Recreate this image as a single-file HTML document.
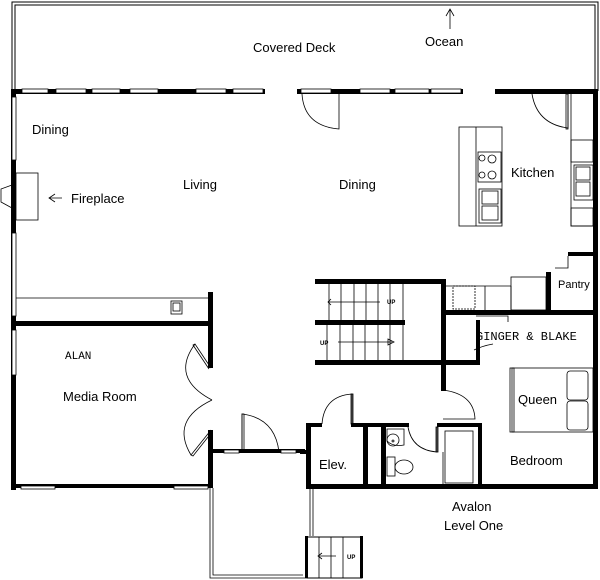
<!DOCTYPE html>
<html><head><meta charset="utf-8"><style>
html,body{margin:0;padding:0;background:#fff;}
svg{display:block;}
text{font-family:"Liberation Sans",sans-serif;font-size:13px;fill:#000;}
.m{font-family:"Liberation Mono",monospace;font-size:12px;}
.s{font-size:6px;font-weight:bold;}
</style></head><body>
<svg width="600" height="580" viewBox="0 0 600 580" xmlns="http://www.w3.org/2000/svg">
<g fill="none" stroke="#000" stroke-width="1">
<path d="M12 91 V2 H598 V91 M15 91 V5 H595 V91"/>
</g>
<g fill="#000">
<rect x="12" y="89" width="253" height="5"/>
<rect x="297" y="89" width="166" height="5"/>
<rect x="495" y="89" width="103" height="5"/>
<rect x="11" y="89" width="5" height="401"/>
<rect x="593" y="89" width="5" height="400"/>
<rect x="11" y="321" width="202" height="5"/>
<rect x="208" y="292" width="5" height="34"/>
<rect x="208" y="321" width="5" height="47"/>
<rect x="208" y="430" width="5" height="58"/>
<rect x="11" y="484" width="202" height="4"/>
<rect x="213" y="449" width="92" height="4"/>
<rect x="315" y="279" width="130" height="5"/>
<rect x="315" y="320" width="90" height="5"/>
<rect x="315" y="360" width="165" height="5"/>
<rect x="441" y="279" width="5" height="112"/>
<rect x="476" y="320" width="4" height="45"/>
<rect x="441" y="310" width="157" height="5"/>
<rect x="546" y="272" width="5" height="40"/>
<rect x="568" y="252" width="28" height="4"/>
<rect x="306" y="423" width="16" height="4"/>
<rect x="351" y="423" width="58" height="4"/>
<rect x="437" y="423" width="45" height="4"/>
<rect x="306" y="423" width="5" height="66"/>
<rect x="300" y="450" width="8" height="4"/>
<rect x="363" y="427" width="5" height="60"/>
<rect x="381" y="427" width="5" height="60"/>
<rect x="478" y="423" width="4" height="64"/>
<rect x="306" y="484" width="292" height="5"/>
<rect x="13" y="92" width="3" height="4"/>
</g>
<g fill="#fff" stroke="#000" stroke-width="0.8">
<rect x="22" y="89" width="26" height="4"/><rect x="56" y="89" width="30" height="4"/>
<rect x="92" y="89" width="28" height="4"/><rect x="130" y="89" width="28" height="4"/>
<rect x="196" y="89" width="30" height="4"/><rect x="233" y="89" width="30" height="4"/>
<rect x="301" y="89" width="30" height="4"/><rect x="360" y="89" width="30" height="4"/>
<rect x="395" y="89" width="34" height="4"/><rect x="431" y="89" width="30" height="4"/>
<rect x="12" y="97" width="4" height="63"/><rect x="12" y="233" width="4" height="83"/>
<rect x="12" y="330" width="4" height="45"/>
<rect x="21" y="486" width="34" height="3"/><rect x="174" y="486" width="34" height="3"/>
<rect x="224" y="450" width="15" height="3"/><rect x="281" y="450" width="15" height="3"/>
</g>
<g fill="none" stroke="#000" stroke-width="0.8">
<path d="M302 94 Q304 126 339 129 V94"/>
<path d="M568 94 V128 Q537 124 532 94"/>
<rect x="566" y="94" width="2" height="35"/>
<rect x="16" y="173" width="22" height="47"/>
<path d="M12 185 L1 189 V202 L12 208"/>
<path d="M16 298 H210"/>
<rect x="171" y="301" width="11" height="13"/><rect x="173" y="303" width="7" height="8"/>
<rect x="459" y="127" width="43" height="99"/>
<path d="M476 127 V226"/>
<rect x="478" y="152" width="23" height="30"/>
<circle cx="482" cy="158" r="3"/><circle cx="492" cy="159" r="4"/>
<circle cx="482" cy="175" r="3"/><circle cx="492" cy="175" r="4"/>
<rect x="479" y="189" width="22" height="34"/>
<rect x="482" y="191" width="16" height="13"/><rect x="482" y="206" width="16" height="14"/>
<path d="M571 94 V226 H593"/>
<rect x="571" y="140" width="22" height="22"/>
<rect x="574" y="165" width="19" height="35"/>
<rect x="576" y="167" width="14" height="13"/><rect x="576" y="182" width="14" height="14"/>
<rect x="571" y="208" width="22" height="18"/>
<path d="M568 256 V268 H555"/>
<path d="M446 286 H511 M511 286 V310 M485 286 V310"/>
<rect x="453" y="286" width="22" height="23" stroke-dasharray="2,1"/>
<rect x="511" y="277" width="35" height="33"/>
<path d="M476 316 H508 V322"/>
<path d="M474 350 Q482 346 493 344"/>
<path d="M329 284 V320 M341 284 V320 M354 284 V320 M366 284 V320 M378 284 V320 M390 284 V320 M403 284 V320"/>
<path d="M327 325 V360 M340 325 V360 M353 325 V360 M365 325 V360 M378 325 V360 M390 325 V360 M403 325 V360"/>
<path d="M328 302 H380 M331 299 L328 302 L331 305"/>
<path d="M338 342 H392 M388 339 L394 342 L388 345 Z"/>
<path d="M211 368 L195 344 L193 345 L209 369"/>
<path d="M195 344 Q170 378 212 400"/>
<path d="M211 430 L191 455 L193 456 L212 432"/>
<path d="M191 455 Q170 420 212 400"/>
<path d="M242 452 V414 Q275 418 279 452 H242"/>
<rect x="242" y="414" width="2" height="38"/>
<path d="M322 424 Q324 396 352 394 V424"/>
<rect x="351" y="394" width="2" height="30"/>
<path d="M443 390 Q474 394 475 419 H443"/>
<path d="M408 427 Q412 450 437 452 V427"/>
<rect x="436" y="427" width="2" height="25"/>
<path d="M387 429 H404 V445 Q393 447 387 441 Z"/>
<circle cx="393" cy="440" r="6"/><circle cx="393" cy="441" r="1"/>
<rect x="387" y="457" width="8" height="19"/>
<ellipse cx="404" cy="467" rx="9" ry="7"/>
<rect x="445" y="431" width="28" height="52"/>
<path d="M443 452 V485"/>
<rect x="510" y="368" width="83" height="64"/>
<rect x="512" y="368" width="2" height="64"/>
<rect x="567" y="371" width="21" height="29" rx="3"/><rect x="567" y="401" width="21" height="29" rx="3"/>
<path d="M210 488 V578 H306 V536 M213 488 V575 H303 M310 489 V536 M313 489 V536"/>
<rect x="307" y="537" width="55" height="41" stroke-width="1"/>
<path d="M319 537 V578 M331 537 V578 M343 537 V578 M318 556 H336 M322 553 L318 556 L322 559"/>
<path d="M450 29 V9 M446 16 L450 9 L454 16"/>
<path d="M62 198 H49 M55 194 L49 198 L55 202"/>
</g>
<g fill="#000"><rect x="305" y="536" width="3" height="42"/><rect x="360" y="536" width="3" height="42"/></g>
<text x="253" y="52">Covered Deck</text>
<text x="425" y="46">Ocean</text>
<text x="32" y="134">Dining</text>
<text x="183" y="189">Living</text>
<text x="71" y="203">Fireplace</text>
<text x="339" y="189">Dining</text>
<text x="511" y="177">Kitchen</text>
<text x="558" y="288" style="font-size:11px">Pantry</text>
<text class="m" x="65" y="359" style="font-size:11px">ALAN</text>
<text x="63" y="401">Media Room</text>
<text class="m" x="476" y="340">GINGER &amp; BLAKE</text>
<text x="518" y="404">Queen</text>
<text x="510" y="465">Bedroom</text>
<text x="319" y="469">Elev.</text>
<text x="452" y="511">Avalon</text>
<text x="444" y="530">Level One</text>
<text class="s" x="387" y="304">UP</text>
<text class="s" x="320" y="345">UP</text>
<text class="s" x="347" y="559">UP</text>
</svg>
</body></html>
